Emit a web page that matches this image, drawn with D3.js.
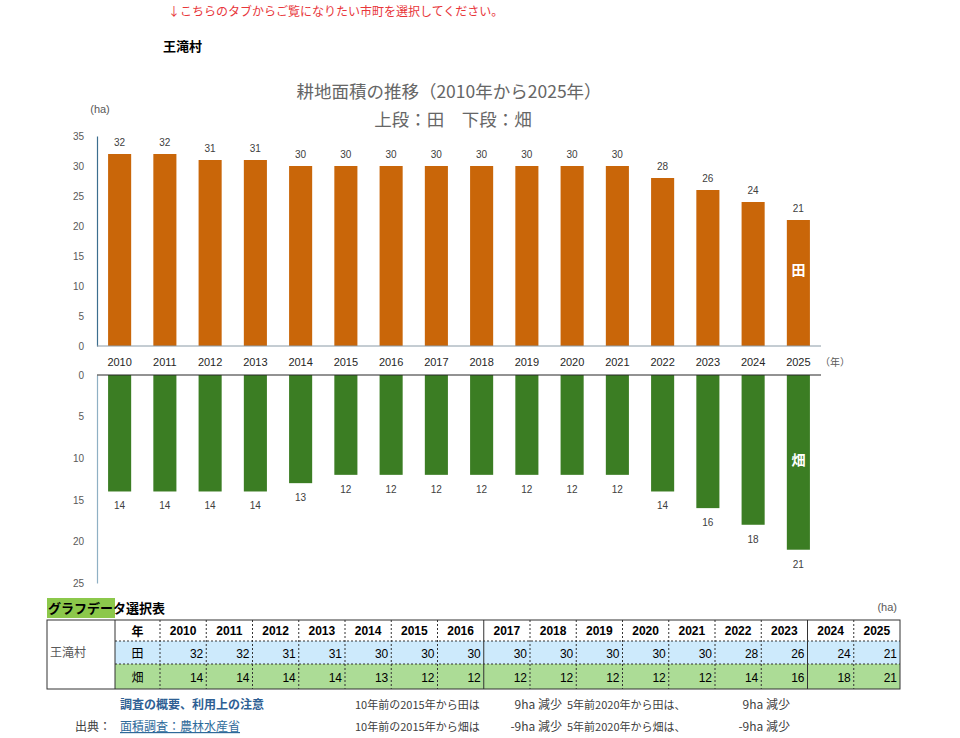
<!DOCTYPE html>
<html>
<head>
<meta charset="utf-8">
<script src="https://cdn.jsdelivr.net/npm/d3@7"></script>
<style>
  body { margin: 0; background: #fff; }
  svg { font-family: "Liberation Sans", "Noto Sans CJK JP", sans-serif; }
</style>
</head>
<body>
<svg id="chart" width="960" height="738"></svg>
<script>
const village = "王滝村";
const years = ["2010","2011","2012","2013","2014","2015","2016","2017","2018","2019","2020","2021","2022","2023","2024","2025"];
const paddy = [32,32,31,31,30,30,30,30,30,30,30,30,28,26,24,21];   // 田
const field = [14,14,14,14,13,12,12,12,12,12,12,12,14,16,18,21];   // 畑
const upperTicks = [0,5,10,15,20,25,30,35];
const lowerTicks = [0,5,10,15,20,25];

const svg = d3.select("#chart");
const jp = "'Noto Sans CJK JP', sans-serif";

// header texts
svg.append("text").attr("x", 168).attr("y", 16)
  .style("font-size", "12px").style("fill", "#e8363a").style("font-family", jp)
  .text("↓こちらのタブからご覧になりたい市町を選択してください。");
svg.append("text").attr("x", 163).attr("y", 51)
  .style("font-size", "13px").style("font-weight", "bold").style("font-family", jp)
  .text(village);

// titles
svg.append("text").attr("x", 449).attr("y", 98).attr("text-anchor", "middle")
  .style("font-size", "17.5px").style("fill", "#666").style("font-family", jp)
  .text("耕地面積の推移（2010年から2025年）");
svg.append("text").attr("x", 453).attr("y", 126).attr("text-anchor", "middle")
  .style("font-size", "17.5px").style("fill", "#666").style("font-family", jp)
  .text("上段：田　下段：畑");
svg.append("text").attr("x", 100).attr("y", 113).attr("text-anchor", "middle")
  .style("font-size", "11px").style("fill", "#595959").text("(ha)");

// scales
const x = d3.scaleBand().domain(years).range([97, 821]).paddingInner(0.49).paddingOuter(0.245);
const yUp = d3.scaleLinear().domain([0, 35]).range([346, 136]);
const yLo = d3.scaleLinear().domain([0, 25]).range([375, 583]);

// upper axis
const gUp = svg.append("g").attr("transform", "translate(97,0)")
  .call(d3.axisLeft(yUp).tickValues(upperTicks).tickSize(0).tickPadding(13));
gUp.select(".domain").attr("stroke", "#3c6e8f").attr("stroke-width", 1.2);
gUp.selectAll(".tick text").style("fill", "#595959").style("font-size", "10px");

svg.selectAll(".barUp").data(paddy).join("rect")
  .attr("x", (d, i) => x(years[i])).attr("width", x.bandwidth())
  .attr("y", d => yUp(d)).attr("height", d => yUp(0) - yUp(d))
  .attr("fill", "#c96609");
svg.append("line").attr("x1", 97).attr("x2", 821).attr("y1", yUp(0)).attr("y2", yUp(0))
  .attr("stroke", "#8a9aa6").attr("stroke-width", 1);
svg.selectAll(".lblUp").data(paddy).join("text")
  .attr("x", (d, i) => x(years[i]) + x.bandwidth() / 2).attr("y", d => yUp(d) - 8)
  .attr("text-anchor", "middle").style("font-size", "10px").style("fill", "#404040")
  .text(d => d);

// year labels between panels
svg.selectAll(".yr").data(years).join("text")
  .attr("x", d => x(d) + x.bandwidth() / 2).attr("y", 366)
  .attr("text-anchor", "middle").style("font-size", "11px").style("fill", "#262626")
  .text(d => d);
svg.append("text").attr("x", 820).attr("y", 366)
  .style("font-size", "10px").style("fill", "#595959").style("font-family", jp).text("（年）");

// lower axis
const gLo = svg.append("g").attr("transform", "translate(97,0)")
  .call(d3.axisLeft(yLo).tickValues(lowerTicks).tickSize(0).tickPadding(13));
gLo.select(".domain").attr("stroke", "#8fb0c4").attr("stroke-width", 1.2);
gLo.selectAll(".tick text").style("fill", "#595959").style("font-size", "10px");

svg.selectAll(".barLo").data(field).join("rect")
  .attr("x", (d, i) => x(years[i])).attr("width", x.bandwidth())
  .attr("y", yLo(0)).attr("height", d => yLo(d) - yLo(0))
  .attr("fill", "#3b7d23");
svg.append("line").attr("x1", 97).attr("x2", 821).attr("y1", yLo(0)).attr("y2", yLo(0))
  .attr("stroke", "#262626").attr("stroke-width", 1);
svg.selectAll(".lblLo").data(field).join("text")
  .attr("x", (d, i) => x(years[i]) + x.bandwidth() / 2).attr("y", d => yLo(d) + 18)
  .attr("text-anchor", "middle").style("font-size", "10px").style("fill", "#404040")
  .text(d => d);

// series tags in last bars
const lastX = x(years[years.length - 1]) + x.bandwidth() / 2;
svg.append("text").attr("x", lastX).attr("y", 275).attr("text-anchor", "middle")
  .style("font-size", "14px").style("font-weight", "bold").style("fill", "#fff").style("font-family", jp)
  .text("田");
svg.append("text").attr("x", lastX).attr("y", 465).attr("text-anchor", "middle")
  .style("font-size", "14px").style("font-weight", "bold").style("fill", "#fff").style("font-family", jp)
  .text("畑");

// ---- data table ----
const tLeft = 47, tLab = 115, tCol0 = 160, tRight = 900;
const cw = (tRight - tCol0) / years.length;
const rowY = [620, 641, 664, 689];

svg.append("rect").attr("x", tLeft).attr("y", 598).attr("width", 68).attr("height", 20).attr("fill", "#8cc84b");
svg.append("text").attr("x", tLeft + 1).attr("y", 613)
  .style("font-size", "13px").style("font-weight", "bold").style("font-family", jp).text("グラフデータ選択表");
svg.append("text").attr("x", 897).attr("y", 611).attr("text-anchor", "end")
  .style("font-size", "11px").style("fill", "#595959").text("(ha)");

svg.append("rect").attr("x", tLab).attr("y", rowY[1]).attr("width", tRight - tLab).attr("height", rowY[2] - rowY[1]).attr("fill", "#cdeafc");
svg.append("rect").attr("x", tLab).attr("y", rowY[2]).attr("width", tRight - tLab).attr("height", rowY[3] - rowY[2]).attr("fill", "#acdc96");

// dashed inner grid
[rowY[1], rowY[2]].forEach(yy => {
  svg.append("line").attr("x1", tLab).attr("x2", tRight).attr("y1", yy).attr("y2", yy)
    .attr("stroke", "#333").attr("stroke-dasharray", "2,2");
});
d3.range(0, years.length).forEach(i => {
  const xx = tCol0 + i * cw;
  const solid = (i === 7 || i === 14);
  svg.append("line").attr("x1", xx).attr("x2", xx).attr("y1", rowY[0]).attr("y2", rowY[3])
    .attr("stroke", "#333").attr("stroke-dasharray", solid ? null : "2,2");
});
svg.append("line").attr("x1", tLab).attr("x2", tLab).attr("y1", rowY[0]).attr("y2", rowY[3]).attr("stroke", "#333");
svg.append("rect").attr("x", tLeft).attr("y", rowY[0]).attr("width", tRight - tLeft).attr("height", rowY[3] - rowY[0])
  .attr("fill", "none").attr("stroke", "#333");

svg.append("text").attr("x", 50).attr("y", 657)
  .style("font-size", "12px").style("fill", "#595959").style("font-family", jp).text(village);

const rowLabels = ["年", "田", "畑"];
rowLabels.forEach((t, r) => {
  svg.append("text").attr("x", (tLab + tCol0) / 2).attr("y", (rowY[r] + rowY[r + 1]) / 2 + 5)
    .attr("text-anchor", "middle").style("font-size", "12px").style("font-family", jp)
    .style("font-weight", r === 0 ? "bold" : "normal").text(t);
});
svg.selectAll(".thYr").data(years).join("text")
  .attr("x", (d, i) => tCol0 + i * cw + cw / 2).attr("y", 635)
  .attr("text-anchor", "middle").style("font-size", "12px").style("font-weight", "bold").text(d => d);
[paddy, field].forEach((arr, r) => {
  svg.selectAll(".td" + r).data(arr).join("text")
    .attr("x", (d, i) => tCol0 + (i + 1) * cw - 3).attr("y", (rowY[r + 1] + rowY[r + 2]) / 2 + 5)
    .attr("text-anchor", "end").style("font-size", "12px").text(d => d);
});

// ---- footer ----
svg.append("text").attr("x", 120).attr("y", 709)
  .style("font-size", "12px").style("font-weight", "bold").style("fill", "#2e5f94").style("font-family", jp)
  .text("調査の概要、利用上の注意");
svg.append("text").attr("x", 75).attr("y", 731)
  .style("font-size", "12px").style("fill", "#404040").style("font-family", jp).text("出典：");
svg.append("text").attr("x", 120).attr("y", 731)
  .style("font-size", "12px").style("fill", "#2e6a9a").style("text-decoration", "underline").style("font-family", jp)
  .text("面積調査：農林水産省");

const i2015 = years.indexOf("2015"), i2020 = years.indexOf("2020"), iLast = years.length - 1;
const notes = [
  ["田", paddy[i2015] - paddy[iLast], paddy[i2020] - paddy[iLast], 709],
  ["畑", field[i2015] - field[iLast], field[i2020] - field[iLast], 731]
];
notes.forEach(([k, d10, d5, yy]) => {
  svg.append("text").attr("x", 355).attr("y", yy).style("font-size", "11px").style("fill", "#404040").style("font-family", jp)
    .text("10年前の2015年から" + k + "は");
  svg.append("text").attr("x", 562).attr("y", yy).attr("text-anchor", "end").style("font-size", "12px").style("fill", "#404040").style("font-family", jp)
    .text(d10 + "ha 減少");
  svg.append("text").attr("x", 567).attr("y", yy).style("font-size", "11px").style("fill", "#404040").style("font-family", jp)
    .text("5年前2020年から" + k + "は、");
  svg.append("text").attr("x", 790).attr("y", yy).attr("text-anchor", "end").style("font-size", "12px").style("fill", "#404040").style("font-family", jp)
    .text(d5 + "ha 減少");
});
</script>
</body>
</html>
